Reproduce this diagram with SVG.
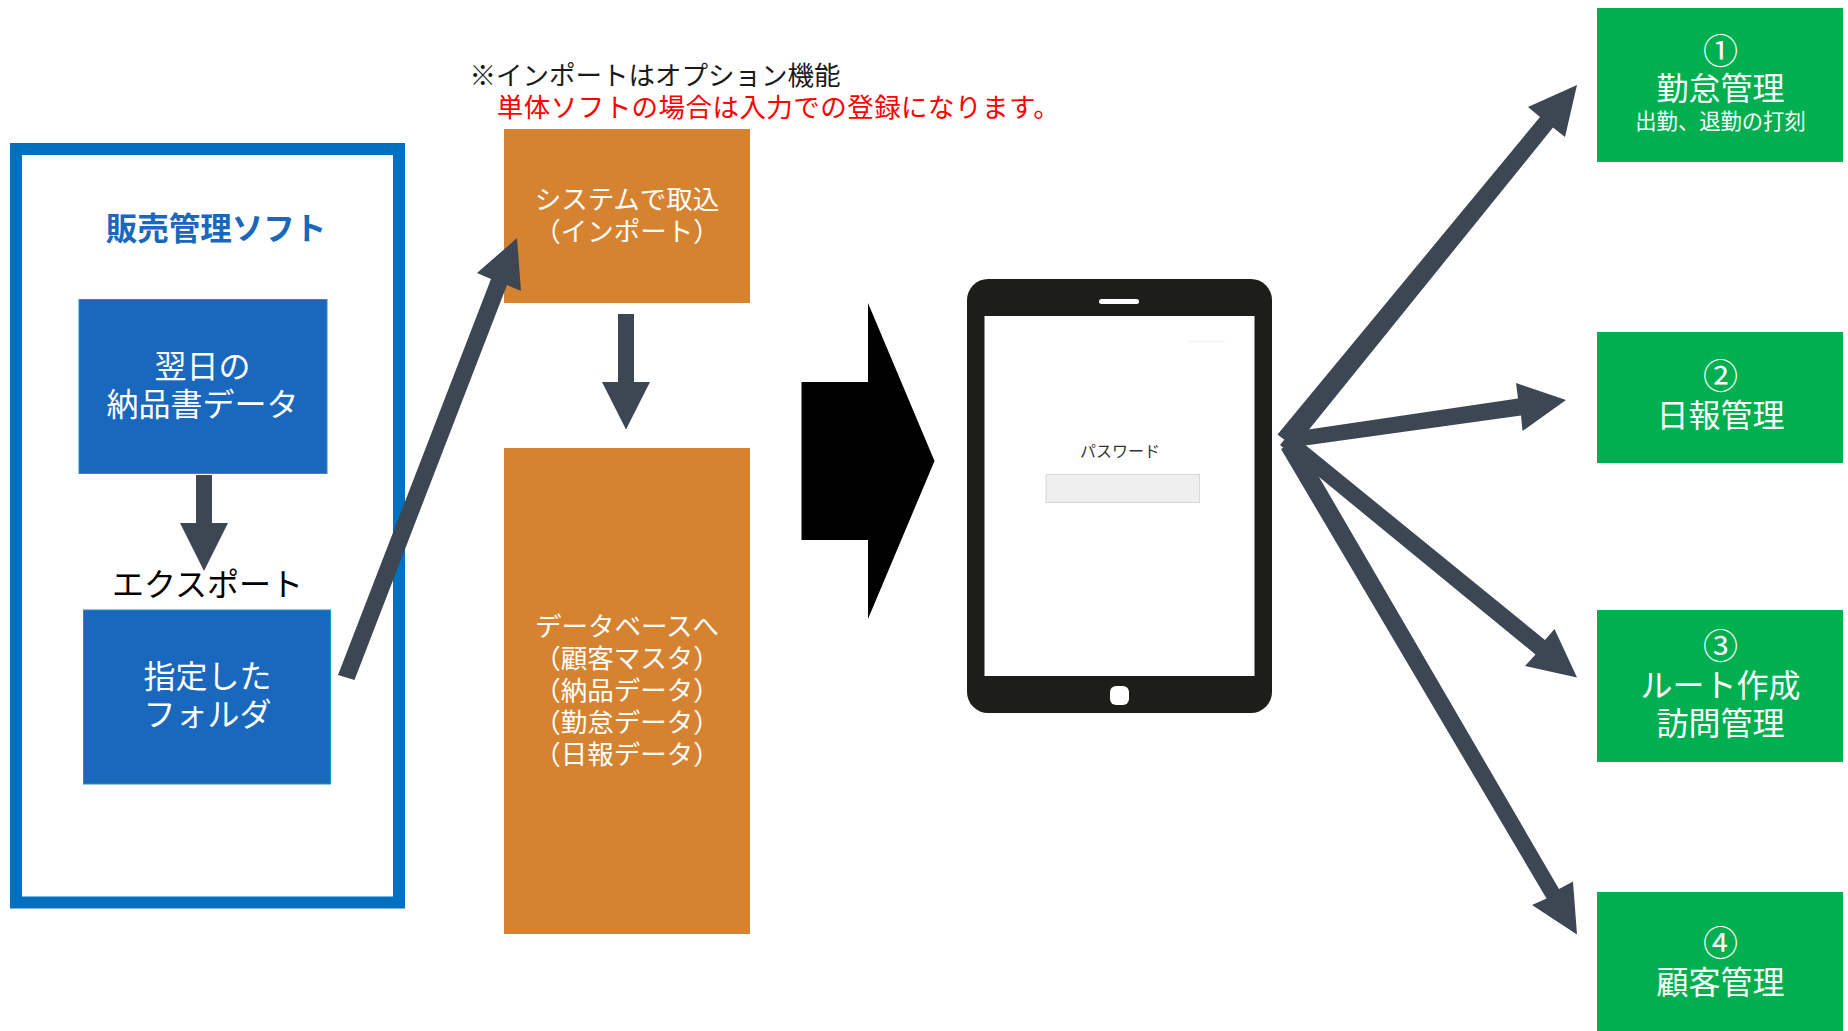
<svg xmlns="http://www.w3.org/2000/svg" width="1848" height="1031" viewBox="0 0 1848 1031">
<style>
text{font-family:"Noto Sans CJK JP","Noto Sans",sans-serif;text-anchor:middle}
.w{fill:#fff}
.s32{font-size:32px}
.s35{font-size:35px}
.s265{font-size:26.5px}
.blue{fill:#1A67BE;stroke:#1E96B4;stroke-width:1}
.org{fill:#D58331}
.grn{fill:#00B050}
.arr{fill:#3D4754}
</style>
<rect width="1848" height="1031" fill="#fff"/>
<g id="frame-sales">
<rect x="16" y="149" width="383" height="753.500" fill="#fff" stroke="#0070C0" stroke-width="12"/>
<text x="216" y="240" font-size="31.500" font-weight="700" fill="#1A67BE">販売管理ソフト</text>
</g>
<g id="node-delivery">
<rect class="blue" x="79" y="299.500" width="248" height="174"/>
<text class="w s32" x="202.500" y="377.500">翌日の</text>
<text class="w s32" x="202.500" y="416">納品書データ</text>
</g>
<g id="node-folder">
<rect class="blue" x="83.500" y="610" width="247" height="174"/>
<text class="w s32" x="207.500" y="687.500">指定した</text>
<text class="w s32" x="207.500" y="726">フォルダ</text>
</g>
<g id="label-export">
<text x="207.500" y="596" font-size="32" fill="#000">エクスポート</text>
</g>
<g id="note">
<text x="655" y="84.500" class="s265" fill="#1a1a1a">※インポートはオプション機能</text>
<text x="778.500" y="116.500" class="s265" letter-spacing="0.45" fill="#FF0000">単体ソフトの場合は入力での登録になります。</text>
</g>
<g id="node-import">
<rect class="org" x="504" y="129" width="246" height="174"/>
<text class="w s265" x="627" y="209">システムで取込</text>
<text class="w s265" x="627" y="241">（インポート）</text>
</g>
<g id="node-database">
<rect class="org" x="504" y="448" width="246" height="486"/>
<text class="w s265" x="627" y="636">データベースへ</text>
<text class="w s265" x="627" y="668">（顧客マスタ）</text>
<text class="w s265" x="627" y="700">（納品データ）</text>
<text class="w s265" x="627" y="732">（勤怠データ）</text>
<text class="w s265" x="627" y="764">（日報データ）</text>
</g>
<g id="node-tablet">
<rect x="967" y="279" width="305" height="434" rx="21" fill="#1D1E1C"/>
<rect x="984.500" y="316" width="270" height="360" fill="#fff"/>
<rect x="1099" y="299" width="40" height="5" rx="2.500" fill="#fff"/>
<rect x="1110" y="686" width="19" height="19" rx="6" fill="#fff"/>
<rect x="1189" y="340.500" width="36" height="2" fill="#F7F7F7"/>
<text x="1120" y="457" font-size="16" fill="#333">パスワード</text>
<rect x="1046" y="474.500" width="153.500" height="28" fill="#EFEFEF" stroke="#D8D8D8"/>
</g>
<g id="node-attendance">
<rect class="grn" x="1597" y="8" width="246" height="154"/>
<text class="w s35" x="1720.500" y="63.500">①</text>
<text class="w s32" x="1720.500" y="100">勤怠管理</text>
<text class="w" x="1720.500" y="129" font-size="21.300">出勤、退勤の打刻</text>
</g>
<g id="node-report">
<rect class="grn" x="1597" y="332" width="246" height="131"/>
<text class="w s35" x="1720.500" y="388.500">②</text>
<text class="w s32" x="1720.500" y="426.500">日報管理</text>
</g>
<g id="node-route">
<rect class="grn" x="1597" y="610" width="246" height="152"/>
<text class="w s35" x="1720.500" y="658.500">③</text>
<text class="w s32" x="1720.500" y="697">ルート作成</text>
<text class="w s32" x="1720.500" y="734.500">訪問管理</text>
</g>
<g id="node-customer">
<rect class="grn" x="1597" y="892" width="246" height="139"/>
<text class="w s35" x="1720.500" y="955.500">④</text>
<text class="w s32" x="1720.500" y="994">顧客管理</text>
</g>
<g id="connectors">
<polygon class="arr" points="196,475 212,475 212,523 228,523 204,571 180,523 196,523"/>
<polygon class="arr" points="338,675 354.500,680 507,285 521,291 517,238 477,273 491,279"/>
<polygon class="arr" points="618,314 634,314 634,382 650,382 626,429.500 602,382 618,382"/>
<polygon fill="#000" points="801.500,382 868,382 868,303 934.500,461 868,619 868,540 801.500,540"/>
<polygon class="arr" points="1277.500,434.500 1294.500,447.500 1553,127.500 1565,137 1577,85 1528,107 1540,117"/>
<polygon class="arr" points="1288,432.500 1291,447.500 1521,415.500 1522.500,431 1566,400 1516,383 1518,398.500"/>
<polygon class="arr" points="1290,432.500 1280,445 1535.500,654.500 1525,666 1577,677.500 1554.500,629 1545,640"/>
<polygon class="arr" points="1297.500,440 1281,449 1546.500,898.500 1532,905 1577,934.500 1573,881.500 1559,889"/>
</g>
</svg>
